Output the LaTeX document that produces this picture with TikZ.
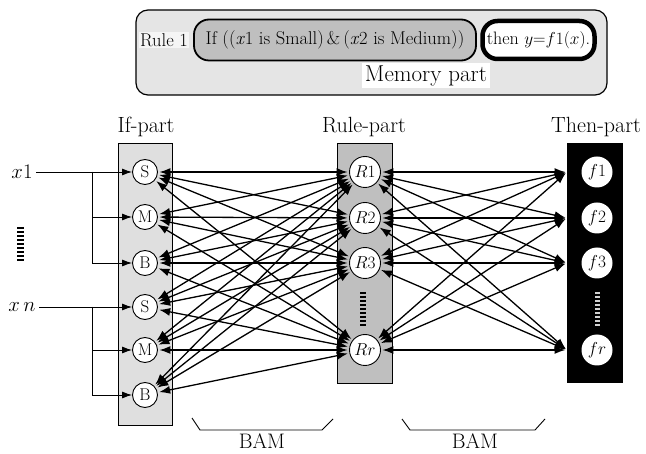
\documentclass[tikz,border=0pt]{standalone}
\usetikzlibrary{arrows.meta}

\tikzset{
  unit/.style={circle,draw,fill=white,line width=0.9pt,minimum size=25pt,inner sep=0pt,font=\fontsize{17}{17}\selectfont},
  ruleunit/.style={unit,minimum size=31pt,font=\fontsize{19}{19}\selectfont},
  thenunit/.style={circle,fill=white,minimum size=31pt,inner sep=0pt,font=\fontsize{19}{19}\selectfont},
  part/.style={font=\fontsize{22}{22}\selectfont},
  link/.style={{Latex[length=11pt,width=8pt]}-{Latex[length=11pt,width=8pt]},line width=1.3pt,shorten <=1.5pt,shorten >=1.5pt},
  feed/.style={-{Latex[length=10pt,width=7pt]},line width=0.9pt},
  dotbar/.style={line width=7pt,dash pattern=on 2pt off 2pt},
  brace/.style={line width=0.9pt},
}

\begin{document}
\begin{tikzpicture}[x=1pt,y=1pt]
    \useasboundingbox (0,0) rectangle (646,-454);
    % memory part
    \draw [rounded corners=12pt,line width=1.2pt,fill=gray!20] (136,-10) rectangle (607,-95);
    \node [fill=gray!8,inner sep=1pt,font=\fontsize{18.5}{18.5}\selectfont] (rulename) at (164,-40) {Rule 1};
    \node [draw,rounded corners=15pt,line width=1.8pt,fill=gray!50,minimum width=282pt,minimum height=41pt,inner sep=0pt,font=\fontsize{18.5}{18.5}\selectfont] (ifclause) at (335,-40) {If ((\textit{x}1 is Small)\,\&\,(\textit{x}2 is Medium))};
    \node [draw,rounded corners=15pt,line width=4.5pt,fill=white,minimum width=112pt,minimum height=38pt,inner sep=0pt,font=\fontsize{18}{18}\selectfont] (thenclause) at (538.5,-40) {then $y{=}f1(x)$.};
    \node [fill=white,minimum width=128pt,minimum height=25pt,inner sep=0pt,font=\fontsize{23}{23}\selectfont] (memory) at (426,-76) {Memory part};
    % layers
    \draw [fill=gray!25,line width=0.8pt] (118,-143) rectangle (172,-425);
    \draw [fill=gray!50,line width=0.8pt] (337,-143) rectangle (392,-383);
    \draw [fill=black] (567,-143) rectangle (622,-382);
    \node [part] (iflabel) at (146,-127) {If-part};
    \node [part] (rulelabel) at (364,-127) {Rule-part};
    \node [part] (thenlabel) at (596,-127) {Then-part};
    % if-part units
    \node [unit] (S1) at (145,-172) {S};
    \node [unit] (M1) at (145,-217) {M};
    \node [unit] (B1) at (145,-263) {B};
    \node [unit] (S2) at (145,-307) {S};
    \node [unit] (M2) at (145,-350) {M};
    \node [unit] (B2) at (145,-395) {B};
    % rule-part units
    \node [ruleunit] (R1) at (365,-172) {$R1$};
    \node [ruleunit] (R2) at (365,-218) {$R2$};
    \node [ruleunit] (R3) at (365,-263) {$R3$};
    \node [ruleunit] (Rr) at (365,-350) {$Rr$};
    \draw [dotbar,line width=6pt] (363,-292) -- (363,-327);
    % then-part units
    \node [thenunit] (f1) at (597,-172) {$f1$};
    \node [thenunit] (f2) at (597,-218) {$f2$};
    \node [thenunit] (f3) at (597,-263) {$f3$};
    \node [thenunit] (fr) at (597,-350) {$fr$};
    \draw [dotbar,line width=5pt,gray!35] (597,-292) -- (597,-327);
    \coordinate (T1) at (567,-172);
    \coordinate (T2) at (567,-218);
    \coordinate (T3) at (567,-263);
    \coordinate (Tr) at (567,-350);
    % inputs
    \node [font=\fontsize{20}{20}\selectfont] (x1) at (22,-172) {$x1$};
    \node [font=\fontsize{20}{20}\selectfont] (xn) at (22,-307) {$x\,n$};
    \draw [dotbar] (20,-227) -- (20,-262);
    \coordinate (br1) at (92,-172);
    \coordinate (brn) at (92,-307);
    \draw [feed] (x1) -- (S1);
    \draw [feed] (br1) |- (M1);
    \draw [feed] (br1) |- (B1);
    \draw [feed] (xn) -- (S2);
    \draw [feed] (brn) |- (M2);
    \draw [feed] (brn) |- (B2);
    % BAM between if-part and rule-part
    \draw [link] (S1) -- (R1);
    \draw [link] (S1) -- (R2);
    \draw [link] (S1) -- (R3);
    \draw [link] (S1) -- (Rr);
    \draw [link] (M1) -- (R1);
    \draw [link] (M1) -- (R2);
    \draw [link] (M1) -- (R3);
    \draw [link] (M1) -- (Rr);
    \draw [link] (B1) -- (R1);
    \draw [link] (B1) -- (R2);
    \draw [link] (B1) -- (R3);
    \draw [link] (B1) -- (Rr);
    \draw [link] (S2) -- (R1);
    \draw [link] (S2) -- (R2);
    \draw [link] (S2) -- (R3);
    \draw [link] (S2) -- (Rr);
    \draw [link] (M2) -- (R1);
    \draw [link] (M2) -- (R2);
    \draw [link] (M2) -- (R3);
    \draw [link] (M2) -- (Rr);
    \draw [link] (B2) -- (R1);
    \draw [link] (B2) -- (R2);
    \draw [link] (B2) -- (R3);
    \draw [link] (B2) -- (Rr);
    % BAM between rule-part and then-part
    \draw [link] (R1) -- (T1);
    \draw [link] (R1) -- (T2);
    \draw [link] (R1) -- (T3);
    \draw [link] (R1) -- (Tr);
    \draw [link] (R2) -- (T1);
    \draw [link] (R2) -- (T2);
    \draw [link] (R2) -- (T3);
    \draw [link] (R2) -- (Tr);
    \draw [link] (R3) -- (T1);
    \draw [link] (R3) -- (T2);
    \draw [link] (R3) -- (T3);
    \draw [link] (R3) -- (Tr);
    \draw [link] (Rr) -- (T1);
    \draw [link] (Rr) -- (T2);
    \draw [link] (Rr) -- (T3);
    \draw [link] (Rr) -- (Tr);
    % braces
    \draw [brace] (192,-418) -- (200,-430) -- (322,-430) -- (333,-419);
    \node [inner sep=0pt,font=\fontsize{21}{21}\selectfont] (bam1) at (262,-441) {BAM};
    \draw [brace] (402,-419) -- (410,-430) -- (535,-430) -- (545,-419);
    \node [inner sep=0pt,font=\fontsize{21}{21}\selectfont] (bam2) at (475,-441) {BAM};
\end{tikzpicture}
\end{document}
